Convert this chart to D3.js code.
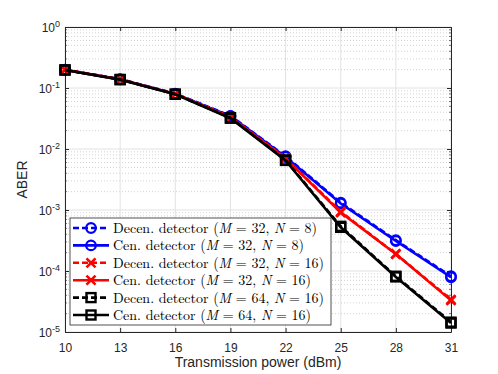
<!DOCTYPE html>
<html>
<head>
<meta charset="utf-8">
<script src="https://cdn.jsdelivr.net/npm/d3@7"></script>
<style>
  body { margin: 0; background: #fff; }
  svg { display: block; }
</style>
</head>
<body>
<div id="chart"></div>
<script>
// categories on the x axis
var powers = [10, 13, 16, 19, 22, 25, 28, 31];

// ABER values
var decen32_8  = [0.200, 0.140, 0.081, 0.0350, 0.0076, 0.00132, 0.00032, 0.000082];
var cen32_8    = [0.198, 0.139, 0.080, 0.0345, 0.0074, 0.00128, 0.00031, 0.000079];
var decen32_16 = [0.199, 0.139, 0.080, 0.0335, 0.0071, 0.00094, 0.00019, 0.000034];
var cen32_16   = [0.198, 0.138, 0.080, 0.0332, 0.0070, 0.00091, 0.00019, 0.000033];
var decen64_16 = [0.198, 0.138, 0.079, 0.0325, 0.0066, 0.00054, 0.000082, 0.0000145];
var cen64_16   = [0.197, 0.137, 0.079, 0.0320, 0.0065, 0.00052, 0.000080, 0.0000140];

var yTicks = [1e-5, 1e-4, 1e-3, 1e-2, 1e-1, 1];

var seriesList = [
  {name: "Decen.", M: 32, N: 8,  values: decen32_8,  color: "#0000ff", marker: "circle", dash: true},
  {name: "Cen.",   M: 32, N: 8,  values: cen32_8,    color: "#0000ff", marker: "circle", dash: false},
  {name: "Decen.", M: 32, N: 16, values: decen32_16, color: "#ff0000", marker: "cross",  dash: true},
  {name: "Cen.",   M: 32, N: 16, values: cen32_16,   color: "#ff0000", marker: "cross",  dash: false},
  {name: "Decen.", M: 64, N: 16, values: decen64_16, color: "#000000", marker: "square", dash: true},
  {name: "Cen.",   M: 64, N: 16, values: cen64_16,   color: "#000000", marker: "square", dash: false}
];

var svgWidth = 498, svgHeight = 374;
var margin = {top: 27, right: 47, bottom: 42, left: 65};
var width = svgWidth - margin.left - margin.right;
var height = svgHeight - margin.top - margin.bottom;

var svg = d3.select("#chart").append("svg")
  .attr("width", svgWidth)
  .attr("height", svgHeight);

var g = svg.append("g")
  .attr("transform", `translate(${margin.left},${margin.top})`);

var x = d3.scalePoint().domain(powers).range([0, width]);
var y = d3.scaleLog().domain([1e-5, 1]).range([height, 0]);

// minor horizontal grid (dotted)
var minor = [];
for (var e = -5; e < 0; e++) {
  for (var k = 2; k <= 9; k++) minor.push(k * Math.pow(10, e));
}
g.append("g").selectAll("line").data(minor).enter().append("line")
  .attr("x1", 0).attr("x2", width)
  .attr("y1", d => y(d)).attr("y2", d => y(d))
  .attr("stroke", "#c8c8c8").attr("stroke-width", 0.8)
  .attr("stroke-dasharray", "1,2");

// major grid
g.append("g").selectAll("line").data(yTicks).enter().append("line")
  .attr("x1", 0).attr("x2", width)
  .attr("y1", d => y(d)).attr("y2", d => y(d))
  .attr("stroke", "#e2e2e2").attr("stroke-width", 1);
g.append("g").selectAll("line").data(powers).enter().append("line")
  .attr("x1", d => x(d)).attr("x2", d => x(d))
  .attr("y1", 0).attr("y2", height)
  .attr("stroke", "#e2e2e2").attr("stroke-width", 1);

// axes (ticks inward, box around)
var axisColor = "#262626";
var bottomAxis = d3.axisBottom(x).tickSizeInner(-4).tickSizeOuter(0).tickPadding(11);
var xAxis = g.append("g").attr("transform", `translate(0,${height})`).call(bottomAxis);
xAxis.selectAll("text").attr("font-family", "Liberation Sans, Arial, sans-serif")
  .attr("font-size", 12).attr("fill", axisColor);
var topAxis = d3.axisTop(x).tickSizeInner(-4).tickSizeOuter(0).tickFormat("");
g.append("g").call(topAxis);

var leftAxis = d3.axisLeft(y).tickValues(yTicks).tickSizeInner(-4).tickSizeOuter(0).tickFormat("");
g.append("g").call(leftAxis);
var rightAxis = d3.axisRight(y).tickValues(yTicks).tickSizeInner(-4).tickSizeOuter(0).tickFormat("");
g.append("g").attr("transform", `translate(${width},0)`).call(rightAxis);

// minor y ticks
g.append("g").selectAll("line").data(minor).enter().append("line")
  .attr("x1", 0).attr("x2", 2).attr("y1", d => y(d)).attr("y2", d => y(d))
  .attr("stroke", axisColor).attr("stroke-width", 0.6);
g.append("g").selectAll("line").data(minor).enter().append("line")
  .attr("x1", width - 2).attr("x2", width).attr("y1", d => y(d)).attr("y2", d => y(d))
  .attr("stroke", axisColor).attr("stroke-width", 0.6);

g.selectAll(".domain").attr("stroke", axisColor);
g.selectAll(".tick line").attr("stroke", axisColor);

// y tick labels as 10^e
var yl = g.append("g").selectAll("text").data(yTicks).enter().append("text")
  .attr("x", -5).attr("y", d => y(d) + 5)
  .attr("text-anchor", "end")
  .attr("font-family", "Liberation Sans, Arial, sans-serif")
  .attr("font-size", 12).attr("fill", axisColor);
yl.append("tspan").text("10");
yl.append("tspan").attr("dy", -5).attr("font-size", 9)
  .text(d => String(Math.round(Math.log10(d))));

// axis labels
svg.append("text")
  .attr("x", margin.left + width / 2).attr("y", 367)
  .attr("text-anchor", "middle")
  .attr("font-family", "Liberation Sans, Arial, sans-serif")
  .attr("font-size", 14).attr("fill", axisColor)
  .text("Transmission power (dBm)");
svg.append("text")
  .attr("transform", `translate(27,${margin.top + height / 2}) rotate(-90)`)
  .attr("text-anchor", "middle")
  .attr("font-family", "Liberation Sans, Arial, sans-serif")
  .attr("font-size", 14).attr("fill", axisColor)
  .text("ABER");

// markers
function drawMarker(sel, type, color) {
  if (type === "circle") {
    sel.append("circle").attr("r", 4.8).attr("fill", "none")
      .attr("stroke", color).attr("stroke-width", 2.2);
  } else if (type === "cross") {
    sel.append("path").attr("d", "M-4.5,-4.5L4.5,4.5M-4.5,4.5L4.5,-4.5")
      .attr("stroke", color).attr("stroke-width", 2.6).attr("fill", "none");
  } else {
    sel.append("rect").attr("x", -4.5).attr("y", -4.5).attr("width", 9).attr("height", 9)
      .attr("fill", "none").attr("stroke", color).attr("stroke-width", 2.4);
  }
}

var line = d3.line().x((d, i) => x(powers[i])).y(d => y(d));

seriesList.forEach(function(s) {
  g.append("path").datum(s.values)
    .attr("d", line)
    .attr("fill", "none")
    .attr("stroke", s.color)
    .attr("stroke-width", 2.6)
    .attr("stroke-dasharray", s.dash ? "6,3" : null);
  g.append("g").selectAll("g").data(s.values).enter().append("g")
    .attr("transform", (d, i) => `translate(${x(powers[i])},${y(d)})`)
    .each(function() { drawMarker(d3.select(this), s.marker, s.color); });
});

// legend
var lg = svg.append("g").attr("transform", "translate(70,218)");
lg.append("rect").attr("width", 261).attr("height", 107)
  .attr("fill", "#fff").attr("stroke", "#262626").attr("stroke-width", 0.8);
var rowH = 17.4;
seriesList.forEach(function(s, i) {
  var row = lg.append("g").attr("transform", `translate(0,${10 + i * rowH})`);
  row.append("line").attr("x1", 3).attr("x2", 39).attr("y1", 0).attr("y2", 0)
    .attr("stroke", s.color).attr("stroke-width", 2.6)
    .attr("stroke-dasharray", s.dash ? "6,3" : null);
  var m = row.append("g").attr("transform", "translate(21,0)");
  drawMarker(m, s.marker, s.color);
  var t = row.append("text").attr("x", 43).attr("y", 5)
    .attr("font-family", "Latin Modern Roman, DejaVu Serif, Liberation Serif, serif")
    .attr("font-size", 14).attr("fill", "#000");
  t.append("tspan").text(s.name + " detector (");
  t.append("tspan").attr("font-style", "italic").text("M");
  t.append("tspan").text(" = " + s.M + ", ");
  t.append("tspan").attr("font-style", "italic").text("N");
  t.append("tspan").text(" = " + s.N + ")");
});
</script>
</body>
</html>
